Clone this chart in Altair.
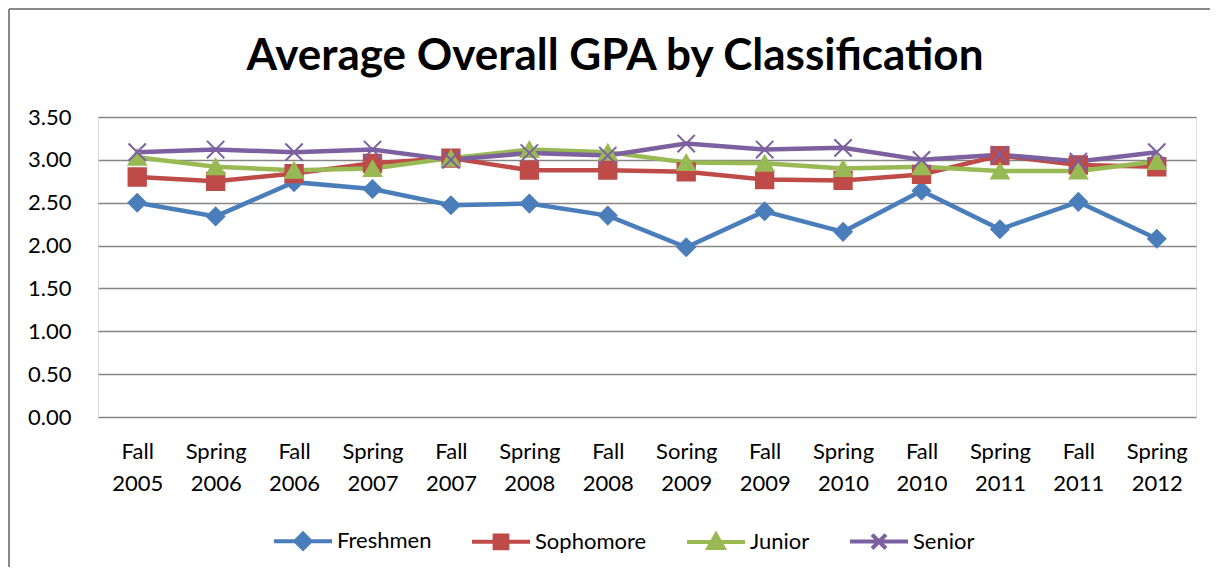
import altair as alt
import pandas as pd

terms = ["Fall 2005", "Spring 2006", "Fall 2006", "Spring 2007", "Fall 2007",
         "Spring 2008", "Fall 2008", "Soring 2009", "Fall 2009", "Spring 2010",
         "Fall 2010", "Spring 2011", "Fall 2011", "Spring 2012"]
freshmen = [2.50, 2.34, 2.74, 2.66, 2.47, 2.49, 2.35, 1.98, 2.40, 2.16, 2.64, 2.19, 2.51, 2.08]
sophomore = [2.80, 2.75, 2.84, 2.96, 3.02, 2.88, 2.88, 2.86, 2.77, 2.76, 2.83, 3.05, 2.94, 2.92]
junior = [3.03, 2.92, 2.88, 2.90, 3.02, 3.12, 3.09, 2.97, 2.96, 2.90, 2.92, 2.87, 2.87, 2.98]
senior = [3.09, 3.12, 3.09, 3.12, 3.00, 3.08, 3.05, 3.19, 3.12, 3.14, 3.00, 3.06, 2.98, 3.09]
classes = ["Freshmen", "Sophomore", "Junior", "Senior"]
colors = ["#4A7EBB", "#BE4B48", "#98B954", "#7D60A0"]
y_ticks = [0.0, 0.5, 1.0, 1.5, 2.0, 2.5, 3.0, 3.5]

point_shapes = ["diamond", "square", "triangle-up", "M-1,-1L1,1M-1,1L1,-1"]
legend_shapes = [
    "M-1,0H1M-0.26,0L0,-0.26L0.26,0L0,0.26Z",
    "M-1,0H1M-0.22,-0.22H0.22V0.22H-0.22Z",
    "M-1,0H1M0,-0.26L0.26,0.2H-0.26Z",
    "M-1,0H1M-0.24,-0.24L0.24,0.24M-0.24,0.24L0.24,-0.24",
]

rows = []
for cls, vals in zip(classes, [freshmen, sophomore, junior, senior]):
    for t, v in zip(terms, vals):
        rows.append({"term": t, "cls": cls, "gpa": v})
df = pd.DataFrame(rows)

FONT = "Lato"

x_enc = alt.X(
    "term:N", sort=terms, title=None,
    axis=alt.Axis(labelExpr="split(datum.label, ' ')", labelAngle=0, ticks=False,
                  domain=False, labelFont=FONT, labelFontSize=22, labelColor="black",
                  labelLineHeight=32, labelPadding=24, labelBaseline="top"),
)
y_enc = alt.Y(
    "gpa:Q", title=None, scale=alt.Scale(domain=[0, 3.5]),
    axis=alt.Axis(values=y_ticks, format=".2f", ticks=False, domain=False, grid=True,
                  gridColor="#868686", gridWidth=1.6, labelFont=FONT, labelFontSize=22,
                  labelColor="black", labelPadding=27),
)

color_scale = alt.Scale(domain=classes, range=colors)

base = alt.Chart(df)

lines = base.mark_line(strokeWidth=4.5).encode(
    x=x_enc, y=y_enc,
    color=alt.Color("cls:N", scale=color_scale, legend=None),
)

points = base.mark_point(filled=True, size=300, strokeWidth=2, opacity=1).encode(
    x=x_enc, y=y_enc,
    color=alt.Color("cls:N", scale=color_scale, legend=None),
    stroke=alt.Stroke("cls:N", scale=color_scale, legend=None),
    shape=alt.Shape("cls:N", scale=alt.Scale(domain=classes, range=point_shapes), legend=None),
)

leg = alt.Legend(title=None, orient="none", legendX=174, legendY=393, direction="horizontal",
                 symbolSize=3364, symbolStrokeWidth=4, labelFont=FONT, labelFontSize=22,
                 labelColor="black", columnPadding=32, labelOffset=3)

legend_layer = base.transform_filter("datum.gpa < 0").mark_point(
    filled=True, size=3364, strokeWidth=4, opacity=1
).encode(
    color=alt.Color("cls:N", scale=color_scale, legend=leg),
    stroke=alt.Stroke("cls:N", scale=color_scale, legend=leg),
    shape=alt.Shape("cls:N", scale=alt.Scale(domain=classes, range=legend_shapes), legend=leg),
)

frame = alt.Chart(pd.DataFrame({"k": [0]}))
border_top = frame.mark_rule(color="#898989", strokeWidth=2).encode(
    x=alt.value(-89), x2=alt.value(1125), y=alt.value(-108))
border_left = frame.mark_rule(color="#898989", strokeWidth=2).encode(
    x=alt.value(-89), y=alt.value(-108), y2=alt.value(460))

chart = alt.layer(border_top, border_left, lines, points, legend_layer).resolve_scale(
    color="independent", stroke="independent", shape="independent"
).properties(
    width=1098, height=300,
    padding={"left": 90, "top": 109, "right": 14, "bottom": 150},
    autosize="none",
    title=alt.TitleParams("Average Overall GPA by Classification", font=FONT, fontSize=44,
                          fontWeight="bold", color="black", anchor="middle", dx=-32,
                          offset=-71),
).configure_view(stroke=None).configure(background="white")

chart.save("out.html", embed_options={"renderer": "svg", "actions": False})
